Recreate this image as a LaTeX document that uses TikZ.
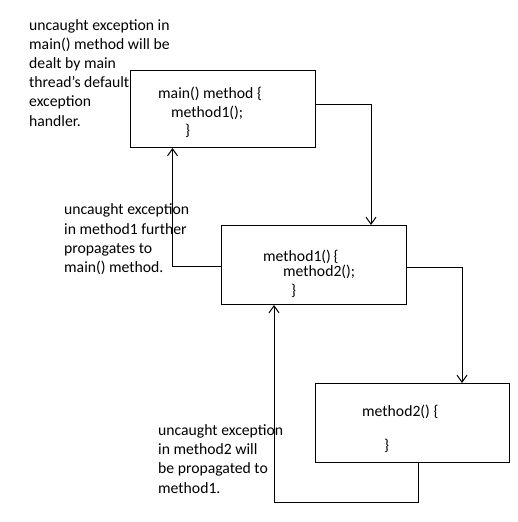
\documentclass[tikz,border=0pt]{standalone}
\usepackage{fontspec}
\setmainfont{Carlito}
\usetikzlibrary{arrows.meta}
\begin{document}
\begin{tikzpicture}[x=1pt,y=-1pt,
  box/.style={draw,line width=1pt,inner sep=0pt,anchor=north west},
  lbl/.style={inner sep=0pt,anchor=base west,align=left,font=\fontsize{15.7}{19.2}\selectfont},
  code/.style={inner sep=0pt,anchor=base west,font=\fontsize{15.7}{17}\selectfont},
  link/.style={line width=1pt,-{Straight Barb[length=7pt,width=10pt]}}]
\useasboundingbox (0,0) rectangle (517,522);
% boxes
\node[box,minimum width=185pt,minimum height=77pt] (mainbox) at (130,70) {};
\node[box,minimum width=185pt,minimum height=79pt] (m1box) at (221,225) {};
\node[box,minimum width=194pt,minimum height=79pt] (m2box) at (315,383) {};
% code text
\node[code] (c1a) at (158,98.5) {main() method \{};
\node[code] (c1b) at (171,117) {method1();};
\node[code] (c1c) at (185,135.5) {\}};
\node[code] (c2a) at (263,261.5) {method1()\,\{};
\node[code] (c2b) at (283,276.5) {method2();};
\node[code] (c2c) at (291,295) {\}};
\node[code] (c3a) at (362,416.5) {method2() \{};
\node[code] (c3c) at (384,450) {\}};
% labels (base anchor = baseline of last line)
\node[lbl] (l1) at (29,126) {uncaught exception in\\main() method will be\\dealt by main\\thread's default\\exception\\handler.};
\node[lbl] (l2) at (64,272.5) {uncaught exception\\in method1 further\\propagates to\\main() method.};
\node[lbl] (l3) at (158,493) {uncaught exception\\in method2 will\\be propagated to\\method1.};
% connectors
\coordinate (a1) at (371,104);
\draw[link] (mainbox.east |- a1) -- (a1) -- (a1 |- m1box.north);
\coordinate (a2) at (172.5,266);
\draw[link] (m1box.west |- a2) -- (a2) -- (a2 |- mainbox.south);
\coordinate (a3) at (462,267);
\draw[link] (m1box.east |- a3) -- (a3) -- (a3 |- m2box.north);
\coordinate (a4) at (418,502);
\coordinate (a5) at (274,502);
\draw[link] (a4 |- m2box.south) -- (a4) -- (a5) -- (a5 |- m1box.south);
\end{tikzpicture}
\end{document}
